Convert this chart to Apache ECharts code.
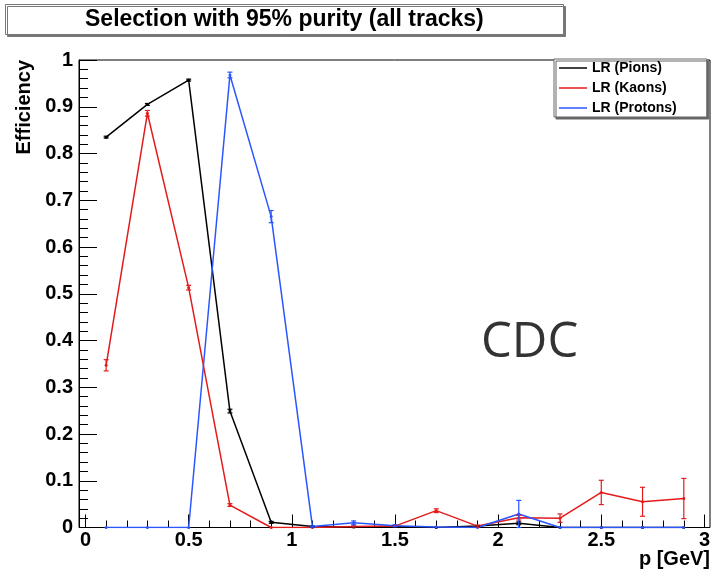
<!DOCTYPE html>
<html>
<head>
<meta charset="utf-8">
<script src="https://cdn.jsdelivr.net/npm/echarts@6/dist/echarts.min.js"></script>
<style>html,body{margin:0;padding:0;background:#fff}#c{width:713px;height:580px}</style>
</head>
<body>
<div id="c"></div>
<script>
// momentum bin centres [GeV]
const pBins = [0.1,0.3,0.5,0.7,0.9,1.1,1.3,1.5,1.7,1.9,2.1,2.3,2.5,2.7,2.9];
// efficiencies and errors
const pions      = [0.835,0.905,0.957,0.249,0.011,0.002,0.001,0.002,0.0,0.003,0.009,0.0,0.0,0.0,0.0];
const pionsErr   = [0.002,0.002,0.002,0.004,0.002,0.001,0.001,0.001,0.0,0.001,0.003,0.0,0.0,0.0,0.0];
const kaons      = [0.347,0.886,0.513,0.048,0.0,0.0,0.002,0.003,0.036,0.003,0.021,0.020,0.075,0.055,0.062];
const kaonsErr   = [0.012,0.006,0.005,0.003,0.0,0.0,0.001,0.001,0.004,0.002,0.005,0.009,0.026,0.031,0.043];
const protons    = [0.0,0.0,0.0,0.968,0.665,0.002,0.010,0.004,0.001,0.0,0.029,0.0,0.0,0.0,0.0];
const protonsErr = [0.0,0.0,0.0,0.006,0.013,0.001,0.004,0.002,0.0,0.0,0.029,0.0,0.0,0.0,0.0];
const seriesNames = ['LR (Pions)','LR (Kaons)','LR (Protons)'];
const xTicks = {min:0, max:3, interval:0.5};
const yTicks = {min:0, max:1, interval:0.1};

const colors = ['#000000','#e41b1b','#2b55ff'];
const FONT = 'Liberation Sans';
const chart = echarts.init(document.getElementById('c'), null, {renderer:'canvas'});

function lineSeries(name, vals, color){
  return {
    type:'line', name:name, xAxisIndex:0, yAxisIndex:0,
    data: pBins.map((x,i)=>[x, vals[i]]),
    symbol:'circle', symbolSize:3, showSymbol:true,
    itemStyle:{color:color}, lineStyle:{color:color, width:1.5},
    emphasis:{disabled:true}, animation:false, z:3
  };
}
function errSeries(vals, errs, color){
  return {
    type:'custom', xAxisIndex:0, yAxisIndex:0, silent:true, animation:false, z:4,
    data: pBins.map((x,i)=>[x, vals[i], errs[i]]),
    renderItem:function(params, api){
      const x = api.value(0), y = api.value(1), e = api.value(2);
      if (!(e > 0)) return null;
      const lo = api.coord([x, y - e]), hi = api.coord([x, y + e]);
      const st = {stroke:color, lineWidth:1.2};
      return {type:'group', children:[
        {type:'line', shape:{x1:lo[0],y1:lo[1],x2:hi[0],y2:hi[1]}, style:st},
        {type:'line', shape:{x1:lo[0]-2.5,y1:lo[1],x2:lo[0]+2.5,y2:lo[1]}, style:st},
        {type:'line', shape:{x1:hi[0]-2.5,y1:hi[1],x2:hi[0]+2.5,y2:hi[1]}, style:st}
      ]};
    }
  };
}

const option = {
  backgroundColor:'#ffffff',
  animation:false,
  title:{
    text:'Selection with 95% purity (all tracks)',
    left:5, top:4, padding:[3,80,3,80],
    backgroundColor:'#ffffff', borderColor:'#777', borderWidth:1,
    shadowColor:'#777', shadowOffsetX:2, shadowOffsetY:2, shadowBlur:0,
    textStyle:{fontFamily:FONT, fontWeight:'bold', fontSize:23, color:'#000', lineHeight:25}
  },
  legend:{
    data:seriesNames, orient:'vertical', left:554, top:59,
    padding:[2,30,2,5], itemGap:6, itemWidth:28, itemHeight:1.5, icon:'rect',
    backgroundColor:'#ffffff', borderColor:'#666', borderWidth:1,
    shadowColor:'#666', shadowOffsetX:2, shadowOffsetY:2, shadowBlur:0,
    textStyle:{fontFamily:FONT, fontWeight:'bold', fontSize:14, color:'#000'},
    selectedMode:false
  },
  grid:[
    {left:85.5, right:8, top:60, bottom:52.5, containLabel:false},
    {left:79, right:2, top:60, bottom:52.5, show:true, borderColor:'#000', borderWidth:1, backgroundColor:'transparent', containLabel:false}
  ],
  xAxis:[
    {type:'value', gridIndex:0, min:xTicks.min, max:xTicks.max, interval:xTicks.interval,
     axisLine:{show:false}, splitLine:{show:false},
     axisTick:{show:true, inside:true, length:13, lineStyle:{color:'#000', width:1}},
     minorTick:{show:true, splitNumber:5, length:7, lineStyle:{color:'#000', width:1}},
     minorSplitLine:{show:false},
     axisLabel:{margin:3, fontFamily:FONT, fontWeight:'bold', fontSize:20, color:'#000'}},
    {type:'value', gridIndex:1, min:0, max:1,
     axisLine:{show:false}, axisTick:{show:false}, axisLabel:{show:false}, splitLine:{show:false},
     name:'p [GeV]', nameLocation:'end', nameGap:0,
     nameTextStyle:{fontFamily:FONT, fontWeight:'bold', fontSize:20, color:'#000', align:'right', verticalAlign:'top', padding:[22,0,0,0]}}
  ],
  yAxis:[
    {type:'value', gridIndex:0, min:yTicks.min, max:yTicks.max, show:false},
    {type:'value', gridIndex:1, min:yTicks.min, max:yTicks.max, interval:yTicks.interval,
     axisLine:{show:true, lineStyle:{color:'#000', width:1}}, splitLine:{show:false},
     axisTick:{show:true, inside:true, length:18, lineStyle:{color:'#000', width:1}},
     minorTick:{show:true, splitNumber:5, length:9, lineStyle:{color:'#000', width:1}},
     axisLabel:{margin:6, fontFamily:FONT, fontWeight:'bold', fontSize:20, color:'#000'},
     name:'Efficiency', nameLocation:'end', nameGap:0, nameRotate:90,
     nameTextStyle:{fontFamily:FONT, fontWeight:'bold', fontSize:20, color:'#000', align:'right', verticalAlign:'bottom', padding:[0,0,45,0]}}
  ],
  graphic:[
    {type:'text', left:481, top:319, style:{text:'CDC', fontFamily:'Open Sans', fontSize:49, fill:'#333333'}}
  ],
  series:[
    lineSeries(seriesNames[0], pions, colors[0]),
    errSeries(pions, pionsErr, colors[0]),
    lineSeries(seriesNames[1], kaons, colors[1]),
    errSeries(kaons, kaonsErr, colors[1]),
    lineSeries(seriesNames[2], protons, colors[2]),
    errSeries(protons, protonsErr, colors[2])
  ]
};
chart.setOption(option);
</script>
</body>
</html>
